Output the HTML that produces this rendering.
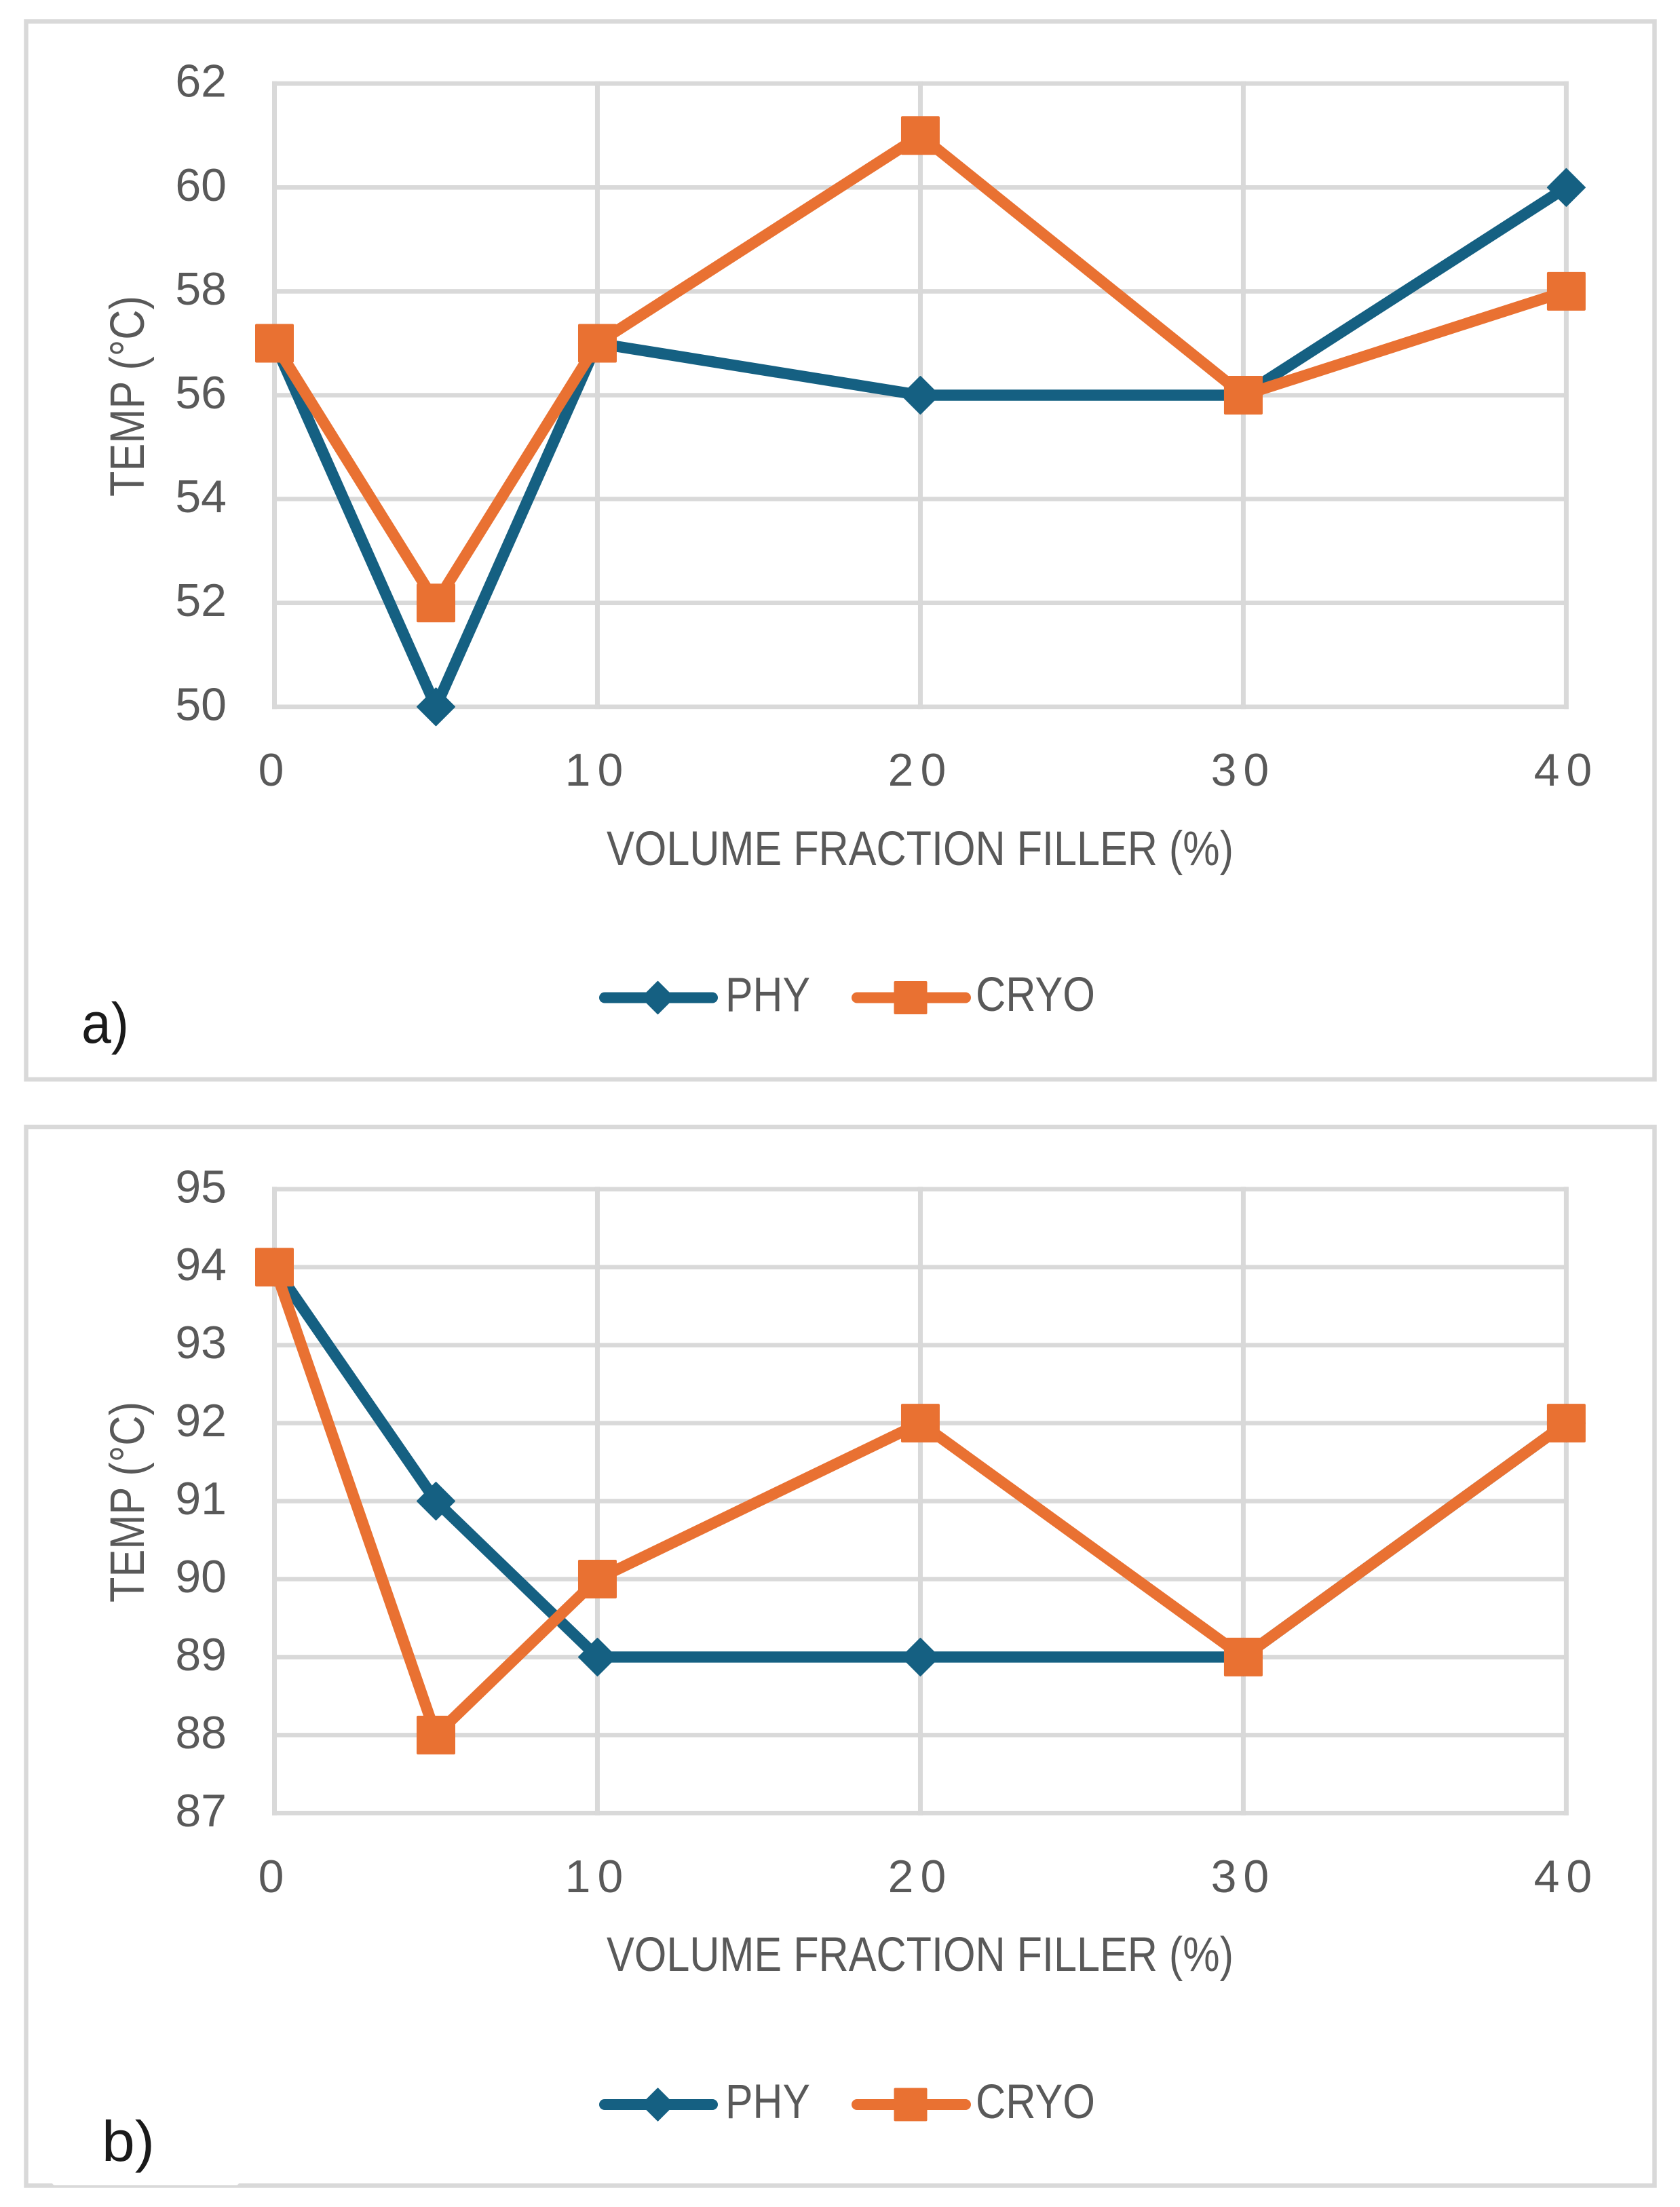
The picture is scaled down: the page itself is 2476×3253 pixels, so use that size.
<!DOCTYPE html>
<html lang="en">
<head>
<meta charset="utf-8">
<title>Temperature vs volume fraction filler</title>
<style>
html,body{margin:0;padding:0;background:#fff;}
body{width:2476px;height:3253px;overflow:hidden;}
svg{display:block;}
text{font-family:"Liberation Sans",sans-serif;fill:#595959;}
</style>
</head>
<body>
<svg id="figure" xmlns="http://www.w3.org/2000/svg" width="2476" height="3253" viewBox="0 0 2476 3253">
  <rect x="0" y="0" width="2476" height="3253" fill="#ffffff"/>
  <g id="panel-a">
    <rect x="38.5" y="31.5" width="2400" height="1559.5" fill="#ffffff" stroke="#d9d9d9" stroke-width="6.5"/>
    <text x="894" y="1275" font-size="71" textLength="924" lengthAdjust="spacingAndGlyphs">VOLUME FRACTION FILLER (%)</text>
    <text transform="translate(212,732) rotate(-90)" x="0" y="0" font-size="71" textLength="296" lengthAdjust="spacingAndGlyphs">TEMP (°C)</text>
    <text x="1069" y="1490.5" font-size="71" textLength="125" lengthAdjust="spacingAndGlyphs">PHY</text>
    <text x="1438" y="1490" font-size="71" textLength="176" lengthAdjust="spacingAndGlyphs">CRYO</text>
    <text x="120" y="1537" font-size="84" textLength="70" lengthAdjust="spacingAndGlyphs" style="fill:#1a1a1a">a)</text>
  </g>
  <g id="panel-b">
    <rect x="38.5" y="1661" width="2400" height="1560.5" fill="#ffffff" stroke="#d9d9d9" stroke-width="6.5"/>
    <rect x="77" y="3100" width="275" height="121" rx="4" fill="#ffffff"/>
    <text x="894" y="2905" font-size="71" textLength="924" lengthAdjust="spacingAndGlyphs">VOLUME FRACTION FILLER (%)</text>
    <text transform="translate(212,2362) rotate(-90)" x="0" y="0" font-size="71" textLength="296" lengthAdjust="spacingAndGlyphs">TEMP (°C)</text>
    <text x="1069" y="3122" font-size="71" textLength="125" lengthAdjust="spacingAndGlyphs">PHY</text>
    <text x="1438" y="3122" font-size="71" textLength="176" lengthAdjust="spacingAndGlyphs">CRYO</text>
    <text x="150" y="3185" font-size="84" textLength="78" lengthAdjust="spacingAndGlyphs" style="fill:#1a1a1a">b)</text>
  </g>
</svg>
<script>
var fillerPercent = [0, 5, 10, 20, 30, 40];
var xTickLabels = [0, 10, 20, 30, 40];
var panelAYTicks = [50, 52, 54, 56, 58, 60, 62];
var panelAPhy = [57, 50, 57, 56, 56, 60];
var panelACryo = [57, 52, 57, 61, 56, 58];
var panelBYTicks = [87, 88, 89, 90, 91, 92, 93, 94, 95];
var panelBPhy = [94, 91, 89, 89, 89, 92];
var panelBCryo = [94, 88, 90, 92, 89, 92];

var NS = 'http://www.w3.org/2000/svg';
var BLUE = '#156082';
var ORANGE = '#E97132';
var GRID = '#d9d9d9';

function make(parent, tag, attrs) {
  var node = document.createElementNS(NS, tag);
  for (var k in attrs) { node.setAttribute(k, attrs[k]); }
  parent.appendChild(node);
  return node;
}

function scaleX(v) {
  return 404.5 + (v - 0) / 40 * (2308.4 - 404.5);
}

function diamondPoints(cx, cy, r) {
  return [cx, cy - r, cx + r, cy, cx, cy + r, cx - r, cy].join(' ');
}

function drawPanel(panelId, prefix, yTicks, phy, cryo, top, bottom, xLabelBase, legendY) {
  var panel = document.getElementById(panelId);
  var yMin = yTicks[0];
  var yMax = yTicks[yTicks.length - 1];
  function scaleY(v) {
    return bottom - (v - yMin) / (yMax - yMin) * (bottom - top);
  }

  yTicks.forEach(function (t) {
    var g = make(panel, 'line', {x1: scaleX(0), x2: scaleX(40), y1: scaleY(t), y2: scaleY(t), stroke: GRID, 'stroke-width': 6.6, 'stroke-linecap': 'square'});
    
    
    var lab = make(panel, 'text', {x: 334, y: scaleY(t) + 19.5, 'font-size': 68, 'text-anchor': 'end'});
    
    
    lab.textContent = t;
  });

  xTickLabels.forEach(function (t) {
    var g = make(panel, 'line', {x1: scaleX(t), x2: scaleX(t), y1: top, y2: bottom, stroke: GRID, 'stroke-width': 7, 'stroke-linecap': 'square'});
    
    
    var lab = make(panel, 'text', {x: scaleX(t), y: xLabelBase, 'font-size': 68, 'text-anchor': 'middle', 'letter-spacing': 10});
    
    
    lab.textContent = t;
  });

  function series(values, color, name, isSquare) {
    var pts = values.map(function (v, i) { return scaleX(fillerPercent[i]) + ',' + scaleY(v); }).join(' ');
    var line = make(panel, 'polyline', {points: pts, fill: 'none', stroke: color, 'stroke-width': 16.5, 'stroke-linejoin': 'round', 'stroke-linecap': 'round'});
    
    
    values.forEach(function (v, i) {
      var cx = scaleX(fillerPercent[i]);
      var cy = scaleY(v);
      var m;
      if (isSquare) {
        m = make(panel, 'rect', {x: cx - 28.5, y: cy - 28.5, width: 57, height: 57, rx: 2, fill: color});
      } else {
        m = make(panel, 'polygon', {points: diamondPoints(cx, cy, 27.5), fill: color, stroke: color, 'stroke-width': 2, 'stroke-linejoin': 'round'});
      }
      
      
    });
  }
  series(phy, BLUE, 'phy', false);
  series(cryo, ORANGE, 'cryo', true);

  var l1 = make(panel, 'line', {x1: 891, x2: 1050, y1: legendY, y2: legendY, stroke: BLUE, 'stroke-width': 16, 'stroke-linecap': 'round'});
  
  
  var d1 = make(panel, 'polygon', {points: diamondPoints(969.5, legendY, 24), fill: BLUE, stroke: BLUE, 'stroke-width': 1.5, 'stroke-linejoin': 'round'});
  
  
  var l2 = make(panel, 'line', {x1: 1263, x2: 1423, y1: legendY, y2: legendY, stroke: ORANGE, 'stroke-width': 16, 'stroke-linecap': 'round'});
  
  
  var s2 = make(panel, 'rect', {x: 1317.5, y: legendY - 24.5, width: 49, height: 49, rx: 2, fill: ORANGE});
  
  
}

drawPanel('panel-a', 'panel-a', panelAYTicks, panelAPhy, panelACryo, 123.2, 1041.8, 1158, 1470.5);
drawPanel('panel-b', 'panel-b', panelBYTicks, panelBPhy, panelBCryo, 1752.8, 2672.3, 2789, 3102);
</script>
</body>
</html>
